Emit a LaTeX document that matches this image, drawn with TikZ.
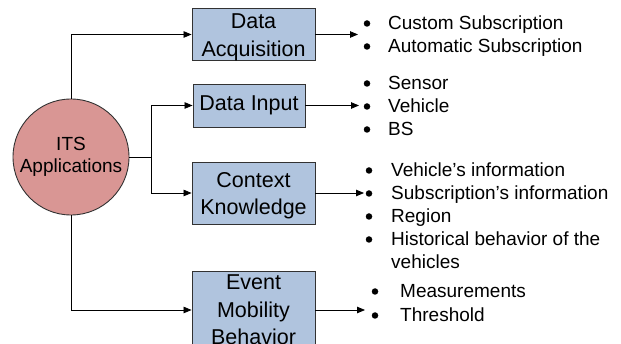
\documentclass[tikz,border=0pt]{standalone}
\usepackage{fontspec}
\setmainfont{Liberation Sans}
\usetikzlibrary{arrows.meta}
\definecolor{boxblue}{RGB}{176,196,222}
\definecolor{hubred}{RGB}{217,150,148}
\definecolor{edge}{RGB}{50,50,50}

% bullet point with its text: name, bullet x, text x, baseline y, text
\newcommand\bulletitem[5]{%
  \node[dot] (#1dot) at (#2,#4-6.5) {};
  \node[item] (#1) at (#3,#4) {#5};}
% tall strut that lowers a two-line label a little inside its box
\newcommand\topstrut{\rule{0pt}{20pt}}

\begin{document}
\begin{tikzpicture}[x=1pt,y=-1pt,
  stage/.style={draw=edge, line width=0.9pt, fill=boxblue, inner sep=0pt,
    align=center, font=\fontsize{21.5}{27.5}\selectfont},
  hub/.style={circle, draw=edge, line width=0.9pt, fill=hubred, inner sep=0pt,
    minimum size=116pt, align=center, font=\fontsize{19}{22}\selectfont},
  conn/.style={line width=0.8pt, -{Triangle[length=8pt,width=6.5pt]}},
  plain/.style={line width=0.8pt},
  item/.style={anchor=base west, inner sep=0pt, font=\fontsize{19}{23}\selectfont},
  dot/.style={circle, fill=black, inner sep=0pt, minimum size=6.5pt}]
\useasboundingbox (0,0) rectangle (621,344);

% central hub
\node[hub] (hub) at (71,157) {ITS\\Applications};

% stages
\node[stage, minimum width=123pt, minimum height=50pt] (acq) at (253.5,34.5) {\topstrut Data\\Acquisition};
\node[stage, minimum width=112pt, minimum height=43pt] (inp) at (249,105.5) {Data Input};
\node[stage, minimum width=123pt, minimum height=62pt] (ctx) at (253.5,193) {\topstrut Context\\Knowledge};
\node[stage, minimum width=123pt, minimum height=78pt] (emb) at (253.5,310) {Event\\Mobility\\Behavior};

% hub to stages
\coordinate (split) at (151,157);
\draw[conn] (hub.north) |- (acq.west);
\draw[conn] (hub.south) |- (emb.west);
\draw[plain] (hub.east) -- (split);
\draw[conn] (split) |- (inp.west);
\draw[conn] (split) |- (ctx.west);

% stage outputs
\coordinate (acqEnd) at (358,34.5);
\coordinate (inpEnd) at (359,105.5);
\coordinate (ctxEnd) at (364,193);
\coordinate (embEnd) at (365,310);
\draw[conn] (acq.east) -- (acqEnd);
\draw[conn] (inp.east) -- (inpEnd);
\draw[conn] (ctx.east) -- (ctxEnd);
\draw[conn] (emb.east) -- (embEnd);

% item lists
\bulletitem{cs}{367}{388}{30}{Custom Subscription}
\bulletitem{as}{367}{388}{53}{Automatic Subscription}

\bulletitem{se}{367}{388}{90}{Sensor}
\bulletitem{ve}{367}{388}{113}{Vehicle}
\bulletitem{bs}{367}{388}{136}{BS}

\bulletitem{vi}{369}{391}{177}{Vehicle’s information}
\bulletitem{si}{369}{391}{200}{Subscription’s information}
\bulletitem{re}{369}{391}{223}{Region}
\bulletitem{hb}{369}{391}{246}{Historical behavior of the}
\node[item] (hb2) at (391,269) {vehicles};

\bulletitem{me}{375}{400}{298}{Measurements}
\bulletitem{th}{375}{400}{322}{Threshold}
\end{tikzpicture}
\end{document}
